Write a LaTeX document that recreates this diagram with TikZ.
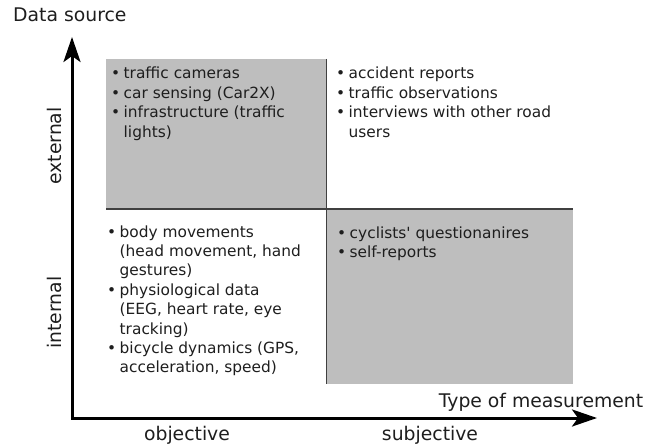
\documentclass[tikz,border=0pt]{standalone}
\usepackage{fontspec}
\setmainfont{DejaVu Sans}
\usetikzlibrary{arrows.meta}
\definecolor{boxgray}{RGB}{190,190,190}
\definecolor{linegray}{RGB}{64,64,64}
\definecolor{txt}{RGB}{30,30,30}
\newcommand\bul{\makebox[12.5pt][l]{\textbullet}}
\begin{document}
\begin{tikzpicture}[x=1pt,y=-1pt,
  quadtext/.style={inner sep=0pt,anchor=base west,text=txt,font=\fontsize{15.4}{19.4}\selectfont},
  axislabel/.style={inner sep=0pt,text=txt,font=\fontsize{18.8}{22}\selectfont},
  divider/.style={draw=linegray,line width=1.5pt},
  axisline/.style={line width=3pt,{Stealth[length=25pt,width=17pt,inset=6pt]}-{Stealth[length=25pt,width=17pt,inset=6pt]}}]
\useasboundingbox (0,0) rectangle (660,446);
% shaded quadrants
\fill[boxgray] (106,59) rectangle (326.5,209);
\fill[boxgray] (326.5,209) rectangle (573,384);
% dividers
\coordinate (vtop) at (326.5,59);
\coordinate (vbot) at (326.5,384);
\coordinate (hleft) at (106,209);
\coordinate (hright) at (573,209);
\draw[divider] (vtop) -- (vbot);
\draw[divider] (hleft) -- (hright);
% axes
\coordinate (O) at (72,418);
\coordinate (ytip) at (72,37);
\coordinate (xtip) at (597,418);
\draw[axisline] (ytip) -- (O) -- (xtip);
% quadrant texts
\node[quadtext] (tl) at (111,79) {\begin{tabular}[t]{@{}l@{}l@{}}
\bul&traffic cameras\\
\bul&car sensing (Car2X)\\
\bul&infrastructure (traffic\\
&lights)
\end{tabular}};
\node[quadtext] (tr) at (336,79) {\begin{tabular}[t]{@{}l@{}l@{}}
\bul&accident reports\\
\bul&traffic observations\\
\bul&interviews with other road\\
&users
\end{tabular}};
\node[quadtext] (bl) at (107,237) {\begin{tabular}[t]{@{}l@{}l@{}}
\bul&body movements\\
&(head movement, hand\\
&gestures)\\
\bul&physiological data\\
&(EEG, heart rate, eye\\
&tracking)\\
\bul&bicycle dynamics (GPS,\\
&acceleration, speed)
\end{tabular}};
\node[quadtext] (br) at (337,238) {\begin{tabular}[t]{@{}l@{}l@{}}
\bul&cyclists\textquotesingle{} questionanires\\
\bul&self-reports
\end{tabular}};
% axis labels
\node[axislabel,anchor=base west] (ds) at (13,21.5) {Data source};
\node[axislabel,anchor=base] (tom) at (541,407) {Type of measurement};
\node[axislabel,anchor=base] (obj) at (187,440) {objective};
\node[axislabel,anchor=base] (subj) at (430,440) {subjective};
\node[axislabel,rotate=90] (ext) at (54.5,146) {external};
\node[axislabel,rotate=90] (int) at (54.5,312.5) {internal};
\end{tikzpicture}
\end{document}
